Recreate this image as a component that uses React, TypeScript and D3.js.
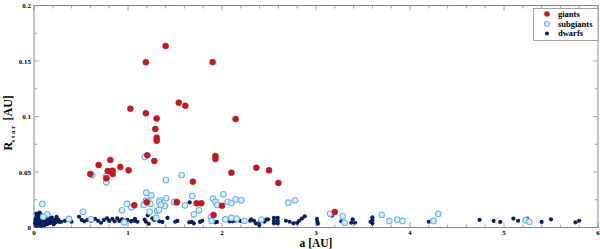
import React from 'react';
import * as d3 from 'd3';

// giants: [a (AU), R_star (AU)]
const giants: [number, number][] = [
  [1.40, 0.1635], [1.19, 0.1488], [1.90, 0.149], [1.54, 0.1124], [1.61, 0.1097],
  [1.025, 0.107], [1.19, 0.1029], [1.305, 0.0983], [2.145, 0.0977], [1.29, 0.0887],
  [1.305, 0.0809], [1.305, 0.0782], [1.205, 0.065], [1.28, 0.0599], [1.93, 0.0644],
  [1.93, 0.0617], [2.10, 0.0494], [2.365, 0.0539], [2.50, 0.0515], [2.60, 0.0401],
  [1.69, 0.0413], [0.812, 0.0608], [0.688, 0.0563], [0.599, 0.0482], [0.784, 0.0509],
  [0.837, 0.0512], [0.837, 0.0482], [0.918, 0.0545], [1.007, 0.0515], [0.77, 0.0443],
  [1.067, 0.02], [1.20, 0.0227], [1.52, 0.0227], [1.73, 0.0218], [1.78, 0.0218],
  [2.00, 0.0196], [1.91, 0.0113], [3.20, 0.014],
];

const subgiants: [number, number][] = [
  [0.62, 0.0473], [0.769, 0.0464], [0.769, 0.0407], [0.088, 0.0212], [0.521, 0.0142],
  [0.989, 0.0212], [1.035, 0.0182], [0.936, 0.0155], [0.142, 0.0119], [0.099, 0.0097],
  [0.372, 0.0077], [0.606, 0.0074], [1.177, 0.0635], [1.195, 0.0314], [1.248, 0.029],
  [0.96, 0.0047], [1.167, 0.0203], [1.19, 0.0242], [1.216, 0.0236], [1.237, 0.0214],
  [1.404, 0.0428], [1.407, 0.0263], [1.39, 0.0194], [1.34, 0.0245], [1.31, 0.0149],
  [1.30, 0.0088], [1.49, 0.023], [1.52, 0.023], [1.571, 0.0473], [1.606, 0.02],
  [1.684, 0.0284], [1.70, 0.0119], [1.755, 0.0155], [1.333, 0.0227], [1.35, 0.0206],
  [1.23, 0.0142], [1.33, 0.016], [1.904, 0.026], [2.014, 0.0299], [1.93, 0.023],
  [1.95, 0.0203], [2.06, 0.0232], [2.10, 0.022], [2.145, 0.0254], [2.205, 0.0245],
  [1.883, 0.0097], [1.89, 0.0061], [2.035, 0.0074], [2.10, 0.0086], [2.156, 0.008],
  [2.237, 0.0061], [2.418, 0.0071], [2.706, 0.0224], [2.777, 0.0245], [3.15, 0.0124],
  [3.284, 0.0101], [3.305, 0.0043], [3.70, 0.0115], [3.78, 0.0059], [3.865, 0.0071],
  [3.92, 0.0059], [4.25, 0.0059], [4.30, 0.0122], [5.23, 0.0065], [5.27, 0.0052],
];

const dwarfs: [number, number][] = [
  // close-in clump
  [0.01, 0.004], [0.015, 0.007], [0.02, 0.002], [0.02, 0.005], [0.025, 0.009],
  [0.03, 0.003], [0.03, 0.006], [0.035, 0.011], [0.04, 0.004], [0.04, 0.008],
  [0.045, 0.002], [0.045, 0.006], [0.05, 0.010], [0.05, 0.003], [0.055, 0.007],
  [0.06, 0.005], [0.06, 0.009], [0.065, 0.002], [0.07, 0.006], [0.07, 0.012],
  [0.075, 0.004], [0.08, 0.008], [0.085, 0.003], [0.09, 0.006], [0.095, 0.010],
  [0.10, 0.004], [0.105, 0.007], [0.11, 0.002], [0.115, 0.005], [0.12, 0.009],
  [0.13, 0.004], [0.135, 0.006], [0.14, 0.003], [0.15, 0.008], [0.155, 0.005],
  [0.16, 0.007], [0.17, 0.004], [0.18, 0.006], [0.19, 0.009], [0.20, 0.005],
  [0.21, 0.003], [0.22, 0.007], [0.23, 0.0045], [0.24, 0.0097], [0.25, 0.006],
  [0.03, 0.0015], [0.05, 0.0045], [0.08, 0.0015], [0.12, 0.0065], [0.025, 0.0125],
  [0.06, 0.0135], [0.145, 0.011], [0.175, 0.0085], [0.27, 0.005],
  // 0.25 - 1.1
  [0.259, 0.0071], [0.29, 0.0052], [0.33, 0.0059], [0.40, 0.0052], [0.479, 0.0097],
  [0.507, 0.0068], [0.535, 0.0056], [0.567, 0.0068], [0.606, 0.0059], [0.649, 0.0077],
  [0.681, 0.0061], [0.713, 0.0043], [0.745, 0.0068], [0.777, 0.0083], [0.80, 0.0059],
  [0.833, 0.0077], [0.858, 0.0056], [0.886, 0.0083], [0.908, 0.0059], [0.936, 0.0074],
  [0.965, 0.0059], [0.993, 0.0068], [1.032, 0.0056], [1.074, 0.0059],
  // 1.0 - 2.2
  [1.04, 0.0061], [1.074, 0.0077], [1.10, 0.0052], [1.177, 0.0071], [1.19, 0.0052],
  [1.21, 0.011], [1.22, 0.0034], [1.26, 0.0083], [1.28, 0.0068], [1.305, 0.0077],
  [1.333, 0.0056], [1.365, 0.005], [1.42, 0.0086], [1.503, 0.0052], [1.525, 0.0059],
  [1.652, 0.0047], [1.677, 0.005], [1.70, 0.0038], [1.656, 0.0227], [1.766, 0.005],
  [1.79, 0.0061], [1.89, 0.0065], [1.946, 0.005], [1.93, 0.0047], [2.024, 0.0068],
  [2.06, 0.0071], [2.08, 0.0056], [2.11, 0.0056], [2.14, 0.0061], [2.195, 0.0059],
  // 2.3 - 3.6
  [2.30, 0.0061], [2.31, 0.0074], [2.34, 0.0061], [2.36, 0.0038], [2.397, 0.002],
  [2.40, 0.005], [2.42, 0.0068], [2.45, 0.0052], [2.47, 0.0071], [2.49, 0.0074],
  [2.553, 0.0088], [2.553, 0.0061], [2.553, 0.0038], [2.593, 0.0088], [2.593, 0.0061],
  [2.593, 0.0038], [2.68, 0.0061], [2.72, 0.0052], [2.76, 0.0038], [2.80, 0.0041],
  [2.82, 0.0061], [2.85, 0.008], [2.88, 0.0101], [3.01, 0.0077], [3.015, 0.0052],
  [3.02, 0.0034], [3.17, 0.0106], [3.27, 0.0056], [3.375, 0.0043], [3.39, 0.0074],
  [3.415, 0.0043], [3.58, 0.0052], [3.60, 0.0092], [3.60, 0.0065], [3.60, 0.0038],
  // beyond 4 AU
  [4.20, 0.0052], [4.74, 0.0068], [4.89, 0.0059], [4.96, 0.005], [5.10, 0.008],
  [5.15, 0.0061], [5.245, 0.008], [5.40, 0.005], [5.50, 0.0074], [5.76, 0.0047],
  [5.80, 0.0061],
];

const xTicks = [0, 1, 2, 3, 4, 5, 6];
const yTicks = [0, 0.05, 0.1, 0.15, 0.2];
const legendLabels = ['giants', 'subgiants', 'dwarfs'];

const W = 600;
const H = 249;
const margin = { left: 34, right: 2, top: 5.5, bottom: 21.5 };

const RED = '#c41a1f';
const NAVY = '#0b1f5e';
const SUB_FILL = '#dcf0fb';
const SUB_STROKE = '#6db5df';
const AXIS = '#8a8a8a';

const App: React.FC = () => {
  const x = d3.scaleLinear().domain([0, 6]).range([margin.left, W - margin.right]);
  const y = d3.scaleLinear().domain([0, 0.2]).range([H - margin.bottom, margin.top]);
  const x0 = x(0), x1 = x(6), y0 = y(0), y1 = y(0.2);

  const xMinor = d3.range(0, 6.0001, 0.2);
  const yMinor = d3.range(0, 0.2001, 0.025);
  const font = '"Liberation Serif", "DejaVu Serif", serif';

  return (
    <svg width={W} height={H} style={{ position: 'absolute', left: 0, top: 0, background: '#fff' }}>
      {/* frame */}
      <rect x={x0} y={y1} width={x1 - x0} height={y0 - y1} fill="none" stroke={AXIS} strokeWidth={1} />

      {/* ticks, inward on all four sides */}
      {xMinor.map((v, i) => {
        const major = i % 5 === 0;
        const len = major ? 5 : 3;
        return (
          <g key={'xt' + i} stroke={AXIS} strokeWidth={0.8}>
            <line x1={x(v)} x2={x(v)} y1={y0} y2={y0 - len} />
            <line x1={x(v)} x2={x(v)} y1={y1} y2={y1 + len} />
          </g>
        );
      })}
      {yMinor.map((v, i) => {
        const major = i % 2 === 0;
        const len = major ? 5 : 3;
        return (
          <g key={'yt' + i} stroke={AXIS} strokeWidth={0.8}>
            <line x1={x0} x2={x0 + len} y1={y(v)} y2={y(v)} />
            <line x1={x1} x2={x1 - len} y1={y(v)} y2={y(v)} />
          </g>
        );
      })}

      {/* tick labels */}
      {xTicks.map(v => (
        <text key={'xl' + v} x={x(v)} y={y0 + 7.5} textAnchor="middle" fontFamily={font}
          fontWeight="bold" fontSize={7}>{v}</text>
      ))}
      {yTicks.map(v => (
        <text key={'yl' + v} x={x0 - 3} y={y(v) + 2.5} textAnchor="end" fontFamily={font}
          fontWeight="bold" fontSize={7}>{v}</text>
      ))}

      {/* axis titles */}
      <text x={(x0 + x1) / 2} y={H - 2} textAnchor="middle" fontFamily={font} fontWeight="bold"
        fontSize={11.5}>a [AU]</text>
      <g transform={`translate(12, ${(y0 + y1) / 2}) rotate(-90)`}>
        <text x={-34} y={0} fontFamily={font} fontWeight="bold" fontSize={12}>R</text>
        <text x={-26} y={2.5} fontFamily={font} fontWeight="bold" fontSize={7}>{'s t a r'}</text>
        <text x={-4} y={0} fontFamily={font} fontWeight="bold" fontSize={12}>[AU]</text>
      </g>

      {/* points */}
      {dwarfs.map((d, i) => (
        <circle key={'d' + i} cx={x(d[0])} cy={y(d[1])} r={2.1} fill={NAVY} />
      ))}
      {subgiants.map((d, i) => (
        <circle key={'s' + i} cx={x(d[0])} cy={y(d[1])} r={2.8} fill={SUB_FILL}
          stroke={SUB_STROKE} strokeWidth={1.1} />
      ))}
      {giants.map((d, i) => (
        <circle key={'g' + i} cx={x(d[0])} cy={y(d[1])} r={3} fill={RED} stroke="#a51015" strokeWidth={0.5} />
      ))}

      {/* legend */}
      <g>
        <rect x={533.5} y={8.5} width={W - margin.right - 533.5} height={32} fill="#fff" stroke={AXIS} strokeWidth={0.8} />
        {legendLabels.map((lab, i) => {
          const ly = 14 + i * 9.7;
          return (
            <g key={lab}>
              {i === 0 && <circle cx={547} cy={ly} r={2.8} fill={RED} />}
              {i === 1 && <circle cx={547} cy={ly} r={2.5} fill={SUB_FILL} stroke={SUB_STROKE} strokeWidth={1.1} />}
              {i === 2 && <circle cx={547} cy={ly} r={2} fill={NAVY} />}
              <text x={558} y={ly + 3} fontFamily={font} fontWeight="bold" fontSize={8.5}>{lab}</text>
            </g>
          );
        })}
      </g>
    </svg>
  );
};

export default App;
